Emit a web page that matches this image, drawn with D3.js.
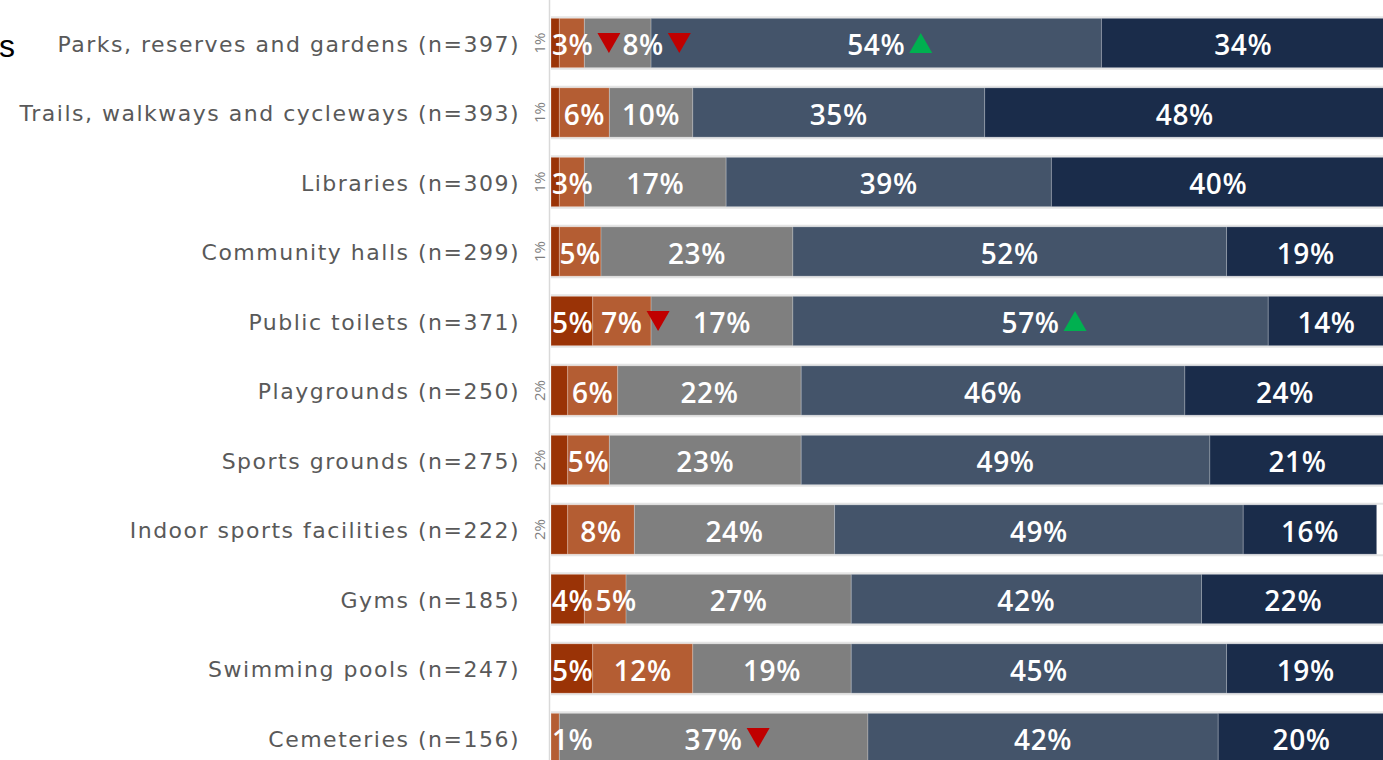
<!DOCTYPE html>
<html><head><meta charset="utf-8">
<script src="https://cdn.jsdelivr.net/npm/d3@7"></script>
<style>body{margin:0;background:#fff;overflow:hidden} svg{display:block}</style>
</head><body><svg id="c" width="1383" height="760"></svg>
<script>
const categories = [
  "Parks, reserves and gardens (n=397)",
  "Trails, walkways and cycleways (n=393)",
  "Libraries (n=309)",
  "Community halls (n=299)",
  "Public toilets (n=371)",
  "Playgrounds (n=250)",
  "Sports grounds (n=275)",
  "Indoor sports facilities (n=222)",
  "Gyms (n=185)",
  "Swimming pools (n=247)",
  "Cemeteries (n=156)"
];
const seriesNames = ["Very dissatisfied", "Dissatisfied", "Neutral", "Satisfied", "Very satisfied"];
const veryDissatisfied = [1, 1, 1, 1, 5, 2, 2, 2, 4, 5, 0];
const dissatisfied     = [3, 6, 3, 5, 7, 6, 5, 8, 5, 12, 1];
const neutral          = [8, 10, 17, 23, 17, 22, 23, 24, 27, 19, 37];
const satisfied        = [54, 35, 39, 52, 57, 46, 49, 49, 42, 45, 42];
const verySatisfied    = [34, 48, 40, 19, 14, 24, 21, 16, 22, 19, 20];
// significance markers: [category index, series index, direction]
const markerCats   = [0, 0, 0, 4, 4, 10];
const markerSeries = [1, 2, 3, 1, 3, 2];
const markerDirs   = ["down", "down", "up", "down", "up", "down"];

const colors = ["#9A3306", "#B45D33", "#7F7F7F", "#44546A", "#1A2C4A"];
const series = [veryDissatisfied, dissatisfied, neutral, satisfied, verySatisfied];

const svg = d3.select("#c");
const x = d3.scaleLinear().domain([0, 100]).range([551, 1385]);
const y = d3.scaleBand().domain(categories).range([8.25, 772.75]).paddingInner(0.29).paddingOuter(0.145);

// cut-off title fragment
svg.append("text").attr("x", -1).attr("y", 57).attr("font-family", "Liberation Sans, Arial, sans-serif")
  .attr("font-size", 32).attr("fill", "#000").text("s");

// axis line
svg.append("line").attr("x1", 549.5).attr("x2", 549.5).attr("y1", 0).attr("y2", 760)
  .attr("stroke", "#d9d9d9").attr("stroke-width", 1.5);

const rows = categories.map((c, i) => {
  let acc = 0;
  return series.map((s, k) => { const d = {cat: c, i, k, v: s[i], x0: acc}; acc += s[i]; d.x1 = acc; return d; });
});

const g = svg.append("g");
// faint edge lines above/below bars
categories.forEach(c => {
  [y(c) - 1, y(c) + y.bandwidth() + 1].forEach(yy => {
    g.append("line").attr("x1", x(0)).attr("x2", 1383).attr("y1", yy).attr("y2", yy)
      .attr("stroke", "#e4e4e4").attr("stroke-width", 2);
  });
});

const seg = g.selectAll("g.row").data(rows).join("g");
seg.selectAll("rect").data(d => d.filter(e => e.v > 0)).join("rect")
  .attr("x", d => x(d.x0)).attr("width", d => x(d.x1) - x(d.x0))
  .attr("y", d => y(d.cat)).attr("height", y.bandwidth())
  .attr("fill", d => colors[d.k])
  .attr("stroke", "rgba(255,255,255,0.22)").attr("stroke-width", 1);

// labels
const labelFont = "Open Sans, Liberation Sans, sans-serif";
const triSize = 229;
const triH = Math.sqrt(triSize * 4 / Math.sqrt(3)) * Math.sqrt(3) / 2;
const triW = Math.sqrt(triSize * 4 / Math.sqrt(3));
rows.forEach((r, i) => {
  const cy = y(categories[i]) + y.bandwidth() / 2;
  let prevRight = x(0) - 2;
  r.forEach(d => {
    if (d.v <= 0) return;
    if (d.k === 0 && d.v <= 2) {
      svg.append("text").attr("transform", `translate(${x(0) - 12},${cy}) rotate(-90)`)
        .attr("text-anchor", "middle").attr("font-family", labelFont).attr("font-size", 15)
        .attr("fill", "#7f7f7f").attr("dominant-baseline", "central").text(d.v + "%");
      return;
    }
    const t = svg.append("text").attr("font-family", labelFont).attr("font-size", 28)
      .attr("font-weight", 600).attr("letter-spacing", 0.6)
      .attr("fill", "#fff").attr("dominant-baseline", "central").text(d.v + "%");
    const w = t.node().getComputedTextLength();
    const cx = (x(d.x0) + x(d.x1)) / 2;
    let left = Math.max(cx - w / 2, x(0) + 1, prevRight + 2);
    t.attr("x", left).attr("y", cy + 1);
    prevRight = left + w;
    markerCats.forEach((mc, m) => {
      if (mc === i && markerSeries[m] === d.k) {
        const up = markerDirs[m] === "up";
        const tx = left + w + 4 + triW / 2;
        svg.append("path").attr("d", d3.symbol(d3.symbolTriangle, triSize)())
          .attr("transform", `translate(${tx},${cy + (up ? triH / 6 : -triH / 6)}) rotate(${up ? 0 : 180})`)
          .attr("fill", up ? "#00B050" : "#C00000");
        prevRight = tx + triW / 2;
      }
    });
  });
});

// category labels
svg.selectAll("text.cat").data(categories).join("text").attr("class", "cat")
  .attr("x", 520).attr("y", d => y(d) + y.bandwidth() / 2 + 1)
  .attr("text-anchor", "end").attr("dominant-baseline", "central")
  .attr("font-family", "DejaVu Sans, Verdana, sans-serif").attr("font-size", 22).attr("letter-spacing", 1.5)
  .attr("fill", "#595959").text(d => d);
</script></body></html>
